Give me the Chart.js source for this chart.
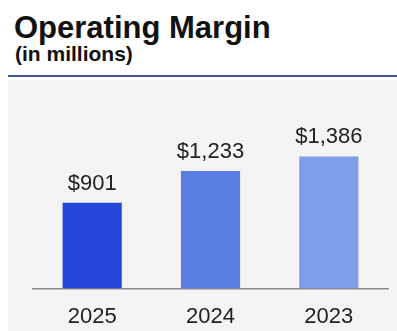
<!DOCTYPE html>
<html>
<head>
<meta charset="utf-8">
<script src="https://cdn.jsdelivr.net/npm/chart.js@4/dist/chart.umd.min.js"></script>
<style>
  html, body { margin: 0; padding: 0; background: #fff; }
  body { width: 397px; height: 331px; position: relative; overflow: hidden;
         font-family: "Liberation Sans", Arial, sans-serif; }
  .title { position: absolute; left: 14px; top: 12px; font-size: 31px; font-weight: bold;
           line-height: 31px; color: #111; white-space: nowrap; }
  .subtitle { position: absolute; left: 15px; top: 43px; font-size: 21px; font-weight: bold;
              line-height: 21px; color: #111; white-space: nowrap; }
  .rule { position: absolute; left: 8px; right: 0; top: 75px; height: 2px; background: #44559a; }
  .panel { position: absolute; left: 8px; right: 0; top: 80px; bottom: 0; background: #f4f4f4; }
  #wrap { position: absolute; left: 0; top: 0; width: 397px; height: 347px; }
</style>
</head>
<body>
<div class="title">Operating Margin</div>
<div class="subtitle">(in millions)</div>
<div class="rule"></div>
<div class="panel"></div>
<div id="wrap"><canvas id="margin"></canvas></div>
<script>
// operating margin by year
var years = ["2025", "2024", "2023"];
var margins = [901, 1233, 1386];
var barColors = ["#2448d8", "#5a7de3", "#7f9ee8"];

// value text above each bar
var barLabels = {
    id: "barLabels",
    afterDatasetsDraw: function (chart) {
        var ctx = chart.ctx;
        var meta = chart.getDatasetMeta(0);
        ctx.save();
        ctx.font = "22px 'Liberation Sans', Arial, sans-serif";
        ctx.fillStyle = "#222";
        ctx.textAlign = "center";
        ctx.textBaseline = "alphabetic";
        meta.data.forEach(function (bar, i) {
            var v = chart.data.datasets[0].data[i];
            ctx.fillText("$" + v.toLocaleString("en-US"), bar.x, bar.y - 13);
        });
        ctx.restore();
    }
};

var ctx = document.getElementById("margin");
new Chart(ctx, {
    type: "bar",
    data: {
        labels: years,
        datasets: [
            {
                data: margins,
                backgroundColor: barColors,
                borderWidth: 0,
                barPercentage: 0.5,
                categoryPercentage: 1.0,
            },
        ],
    },
    options: {
        responsive: true,
        maintainAspectRatio: false,
        animation: false,
        layout: {
            padding: { top: 117, left: 33, right: 9, bottom: 2 },
        },
        plugins: {
            legend: { display: false },
            tooltip: { enabled: false },
        },
        scales: {
            x: {
                grid: { display: false, drawTicks: false },
                border: { display: true, color: "#8a8a8a", width: 1.5 },
                ticks: {
                    padding: 15,
                    color: "#222",
                    font: { family: "'Liberation Sans', Arial, sans-serif", size: 22 },
                },
            },
            y: {
                display: false,
                min: 0,
                max: 1800,
            },
        },
    },
    plugins: [barLabels],
});
</script>
</body>
</html>
